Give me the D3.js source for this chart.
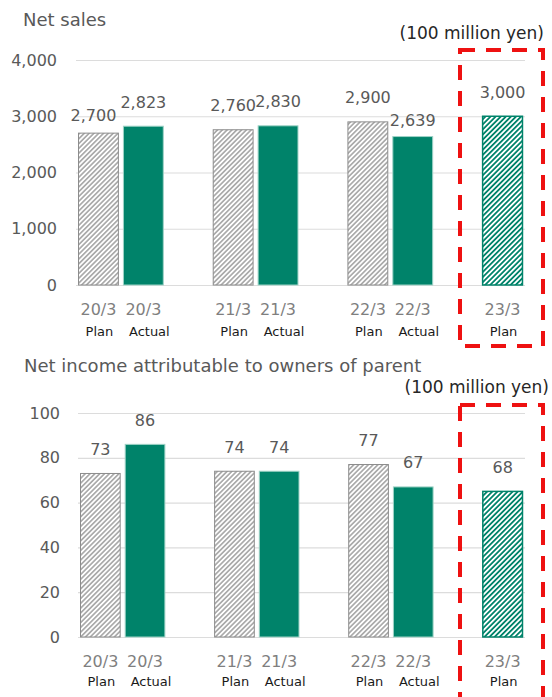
<!DOCTYPE html>
<html>
<head>
<meta charset="utf-8">
<script src="https://cdn.jsdelivr.net/npm/d3@7"></script>
<style>
  body { margin: 0; background: #fff; }
  svg { display: block; font-family: "DejaVu Sans", Verdana, sans-serif; }
</style>
</head>
<body>
<div id="chart"></div>
<script>
const periods = ['20/3', '21/3', '22/3', '23/3'];
const salesPlan = [2700, 2760, 2900, 3000];
const salesActual = [2823, 2830, 2639, null];
const salesTicks = [0, 1000, 2000, 3000, 4000];
const incomePlan = [73, 74, 77, 65];
const incomePlanLabels = ['73', '74', '77', '68'];
const incomeActual = [86, 74, 67, null];
const incomeTicks = [0, 20, 40, 60, 80, 100];

const width = 552;
const height = 697;
const green = '#00836a';

const svg = d3.select('#chart').append('svg')
  .attr('width', width)
  .attr('height', height);

const defs = svg.append('defs');
const hatch = (id, bg, fg, size) => {
  const p = defs.append('pattern')
    .attr('id', id)
    .attr('patternUnits', 'userSpaceOnUse')
    .attr('width', size)
    .attr('height', size)
    .attr('patternTransform', 'rotate(45)');
  p.append('rect').attr('width', size).attr('height', size).attr('fill', bg);
  p.append('rect').attr('width', size / 2).attr('height', size).attr('fill', fg);
};
hatch('hatchGray', '#ffffff', '#ababab', 3.4);
hatch('hatchGreen', '#ffffff', green, 3.6);

// small manual label moves, as in the original
const nudges = { 'sales-0-0': [-5, 6], 'sales-2-1': [0, 8] };

function panel(cfg) {
  const g = svg.append('g');
  const y = d3.scaleLinear().domain(cfg.domain).range([cfg.y0, cfg.y1]);
  const x = d3.scaleBand()
    .domain(d3.range(periods.length * 3 - 2))
    .range([cfg.x0, cfg.x1])
    .paddingInner(0.09)
    .paddingOuter(0.045);

  g.append('text')
    .attr('x', cfg.titleX)
    .attr('y', cfg.titleY)
    .attr('dominant-baseline', 'central')
    .attr('font-size', 18)
    .attr('fill', '#595959')
    .text(cfg.title);

  g.append('text')
    .attr('x', cfg.unitX)
    .attr('y', cfg.unitY)
    .attr('text-anchor', 'end')
    .attr('dominant-baseline', 'central')
    .attr('font-size', 17)
    .attr('fill', '#262626')
    .text('(100 million yen)');

  const axis = g.append('g')
    .attr('transform', `translate(${cfg.x0},0)`)
    .call(d3.axisLeft(y).tickValues(cfg.ticks).tickFormat(d3.format(','))
      .tickSize(-(cfg.x1 - cfg.x0)).tickPadding(cfg.tickPad));
  axis.select('.domain').remove();
  axis.selectAll('.tick line').attr('stroke', '#dcdcdc').attr('stroke-width', 1.2);
  axis.selectAll('.tick text')
    .attr('font-size', 16)
    .attr('fill', '#595959')
    .attr('font-family', '"DejaVu Sans", Verdana, sans-serif');

  const bars = [];
  periods.forEach((p, i) => {
    bars.push({ p, i, k: 0, v: cfg.plan[i], label: cfg.planLabels ? cfg.planLabels[i] : d3.format(',')(cfg.plan[i]) });
    if (cfg.actual[i] != null) {
      bars.push({ p, i, k: 1, v: cfg.actual[i], label: d3.format(',')(cfg.actual[i]) });
    }
  });

  const slot = d => d.i * 3 + d.k;
  const last = periods.length - 1;

  g.selectAll('rect.bar').data(bars).join('rect')
    .attr('class', 'bar')
    .attr('x', d => x(slot(d)) + 0.5)
    .attr('y', d => y(d.v))
    .attr('width', x.bandwidth() - 1)
    .attr('height', d => y(0) - y(d.v))
    .attr('fill', d => d.k === 1 ? green : (d.i === last ? 'url(#hatchGreen)' : 'url(#hatchGray)'))
    .attr('stroke', d => d.k === 1 ? '#9fd3c7' : (d.i === last ? green : '#8c8c8c'))
    .attr('stroke-width', d => d.k === 0 && d.i === last ? 1.5 : 1);

  g.selectAll('text.val').data(bars).join('text')
    .attr('class', 'val')
    .attr('x', d => x(slot(d)) + x.bandwidth() / 2 + ((nudges[`${cfg.key}-${d.i}-${d.k}`] || [0, 0])[0]))
    .attr('y', d => y(d.v) - 24 + ((nudges[`${cfg.key}-${d.i}-${d.k}`] || [0, 0])[1]))
    .attr('text-anchor', 'middle')
    .attr('dominant-baseline', 'central')
    .attr('font-size', 16)
    .attr('fill', '#595959')
    .text(d => d.label);

  g.selectAll('text.per').data(bars).join('text')
    .attr('class', 'per')
    .attr('x', d => x(slot(d)) + x.bandwidth() / 2)
    .attr('y', y(0) + 24)
    .attr('text-anchor', 'middle')
    .attr('dominant-baseline', 'central')
    .attr('font-size', 16)
    .attr('fill', '#7f7f7f')
    .text(d => d.p);

  g.selectAll('text.kind').data(bars).join('text')
    .attr('class', 'kind')
    .attr('x', d => x(slot(d)) + x.bandwidth() / 2 + (d.k === 1 ? 6 : 1))
    .attr('y', y(0) + cfg.kindGap)
    .attr('text-anchor', 'middle')
    .attr('dominant-baseline', 'central')
    .attr('font-size', 13)
    .attr('fill', '#1a1a1a')
    .text(d => d.k === 1 ? 'Actual' : 'Plan');

  g.append('rect')
    .attr('x', cfg.box[0])
    .attr('y', cfg.box[1])
    .attr('width', cfg.box[2] - cfg.box[0])
    .attr('height', cfg.box[3] - cfg.box[1])
    .attr('fill', 'none')
    .attr('stroke', '#ee1111')
    .attr('stroke-width', 4)
    .attr('stroke-dasharray', '15,11');
}

panel({
  key: 'sales',
  title: 'Net sales', titleX: 23, titleY: 19,
  unitX: 544, unitY: 33,
  domain: [0, 4000], y0: 285, y1: 60,
  x0: 76, x1: 525, tickPad: 19,
  ticks: salesTicks,
  plan: salesPlan, actual: salesActual,
  kindGap: 46,
  box: [460, 50, 543, 346]
});

panel({
  key: 'income',
  title: 'Net income attributable to owners of parent', titleX: 24, titleY: 365,
  unitX: 549, unitY: 387,
  domain: [0, 100], y0: 637, y1: 413,
  x0: 78, x1: 525, tickPad: 18,
  ticks: incomeTicks,
  plan: incomePlan, planLabels: incomePlanLabels, actual: incomeActual,
  kindGap: 44,
  box: [460, 405, 543, 720]
});
</script>
</body>
</html>
